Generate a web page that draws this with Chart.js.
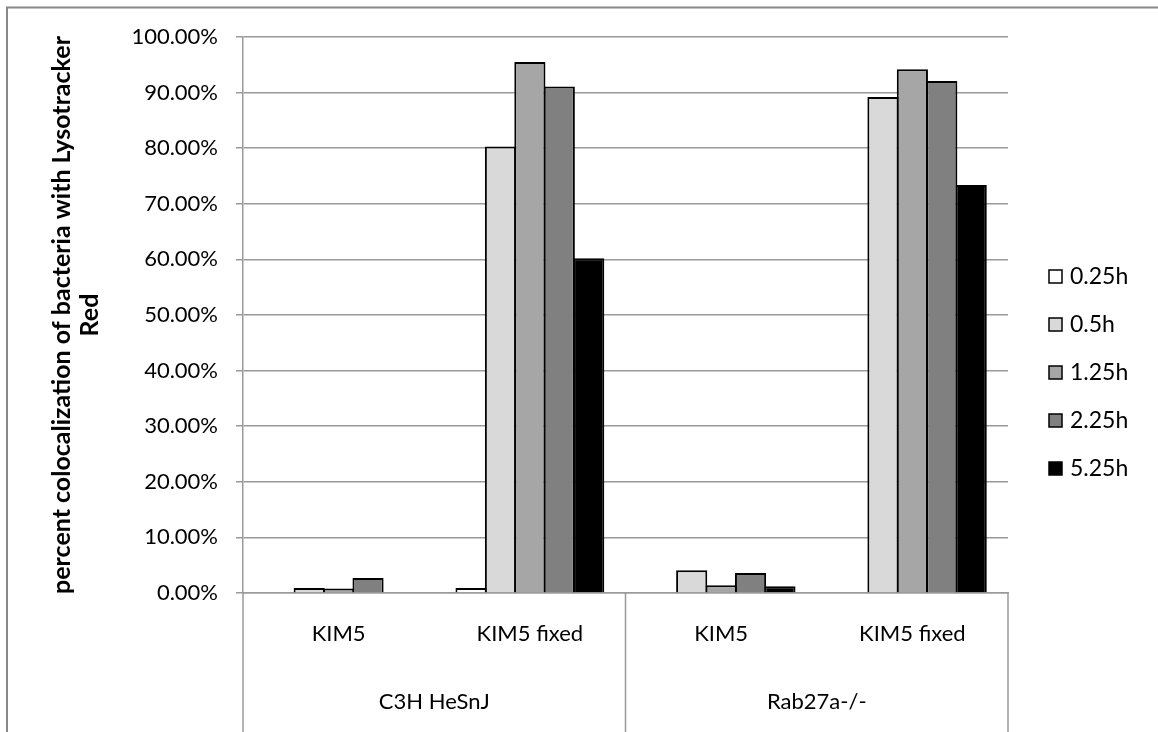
<!DOCTYPE html>
<html>
<head>
<meta charset="utf-8">
<script src="https://cdn.jsdelivr.net/npm/chart.js@4/dist/chart.umd.min.js"></script>
<style>
  html, body { margin: 0; padding: 0; background: #ffffff; }
  #wrap { width: 1158px; height: 732px; position: relative; }
  canvas { display: block; }
</style>
</head>
<body>
<div id="wrap"><canvas id="chart" width="1158" height="732"></canvas></div>
<script>
// Strain groups (outer level of the category axis)
const groups = ['C3H HeSnJ', 'Rab27a-/-'];
// Conditions (inner level of the category axis), two per strain
const categories = ['KIM5', 'KIM5 fixed', 'KIM5', 'KIM5 fixed'];
// Time points
const seriesNames = ['0.25h', '0.5h', '1.25h', '2.25h', '5.25h'];
// Percent colocalization per time point, one value per condition
const h025 = [null, 0.9, null, null];
const h05  = [0.9, 80.3, 4.1, 89.2];
const h125 = [0.8, 95.5, 1.4, 94.2];
const h225 = [2.7, 91.1, 3.6, 92.1];
const h525 = [null, 60.2, 1.2, 73.4];
// Value axis ticks
const yTicks = [0, 10, 20, 30, 40, 50, 60, 70, 80, 90, 100];

const seriesValues = [h025, h05, h125, h225, h525];
const fills = ['#ffffff', '#d9d9d9', '#a6a6a6', '#808080', '#000000'];

const FONT = 'Lato, "Open Sans", sans-serif';
const AXIS_GREY = '#9a9a9a';

const datasets = seriesNames.map((name, i) => ({
  label: name,
  data: seriesValues[i],
  backgroundColor: fills[i],
  borderColor: '#000000',
  borderWidth: 2,
  borderSkipped: 'bottom',
  categoryPercentage: 0.769,
  barPercentage: 1.06
}));

// Outer frame, two-level category separators, group labels and legend
const decorations = {
  id: 'decorations',
  beforeDraw(chart) {
    const ctx = chart.ctx;
    ctx.save();
    ctx.fillStyle = '#ffffff';
    ctx.fillRect(0, 0, chart.width, chart.height);
    ctx.strokeStyle = '#888888';
    ctx.lineWidth = 2;
    ctx.beginPath();
    ctx.moveTo(7, chart.height);
    ctx.lineTo(7, 7.5);
    ctx.lineTo(chart.width, 7.5);
    ctx.stroke();
    ctx.restore();
  },
  afterDraw(chart) {
    const ctx = chart.ctx;
    const area = chart.chartArea;
    const x = chart.scales.x;
    ctx.save();

    // separators below the axis: left edge, between strains, right edge
    const mid = (x.getPixelForValue(1) + x.getPixelForValue(2)) / 2;
    const edges = [area.left, mid, area.right];
    ctx.strokeStyle = AXIS_GREY;
    ctx.lineWidth = 1.5;
    edges.forEach(px => {
      ctx.beginPath();
      ctx.moveTo(px, area.bottom);
      ctx.lineTo(px, chart.height);
      ctx.stroke();
    });

    // strain labels
    ctx.fillStyle = '#000000';
    ctx.font = '22px ' + FONT;
    ctx.textAlign = 'center';
    ctx.textBaseline = 'middle';
    groups.forEach((g, i) => {
      ctx.fillText(g, (edges[i] + edges[i + 1]) / 2, area.bottom + 109);
    });

    // legend
    const legX = 1049;
    const legY0 = 277;
    const legStep = 48;
    ctx.textAlign = 'left';
    ctx.font = '23px ' + FONT;
    chart.data.datasets.forEach((ds, i) => {
      const cy = legY0 + i * legStep;
      ctx.fillStyle = ds.backgroundColor;
      ctx.fillRect(legX, cy - 7, 13, 13);
      ctx.strokeStyle = '#000000';
      ctx.lineWidth = 1.5;
      ctx.strokeRect(legX, cy - 7, 13, 13);
      ctx.fillStyle = '#000000';
      ctx.fillText(ds.label, legX + 21, cy);
    });
    ctx.restore();
  }
};

new Chart(document.getElementById('chart'), {
  type: 'bar',
  data: { labels: categories, datasets },
  options: {
    responsive: false,
    animation: false,
    devicePixelRatio: 1,
    layout: { padding: { left: 0, right: 150, top: 37, bottom: 0 } },
    plugins: {
      legend: { display: false },
      tooltip: { enabled: false }
    },
    scales: {
      x: {
        grid: { display: false },
        border: { display: true, color: AXIS_GREY, width: 1.5 },
        ticks: {
          color: '#000000',
          font: { family: FONT, size: 22 },
          padding: 20,
          maxRotation: 0,
          autoSkip: false
        },
        afterFit(scale) { scale.height = 139; }
      },
      y: {
        min: 0,
        max: 100,
        afterBuildTicks(scale) { scale.ticks = yTicks.map(v => ({ value: v })); },
        grid: { color: AXIS_GREY, lineWidth: 1.5, tickLength: 7, drawTicks: true },
        border: { display: true, color: AXIS_GREY, width: 1.5 },
        ticks: {
          color: '#000000',
          font: { family: FONT, size: 22 },
          padding: 18,
          callback: v => v.toFixed(2) + '%'
        },
        title: {
          display: true,
          text: ['percent colocalization of bacteria with Lysotracker', 'Red'],
          color: '#000000',
          font: { family: FONT, size: 25, weight: 'bold', lineHeight: 1.12 },
          padding: { top: 48, bottom: 0 }
        },
        afterFit(scale) { scale.width = 243; }
      }
    }
  },
  plugins: [decorations]
});
</script>
</body>
</html>
